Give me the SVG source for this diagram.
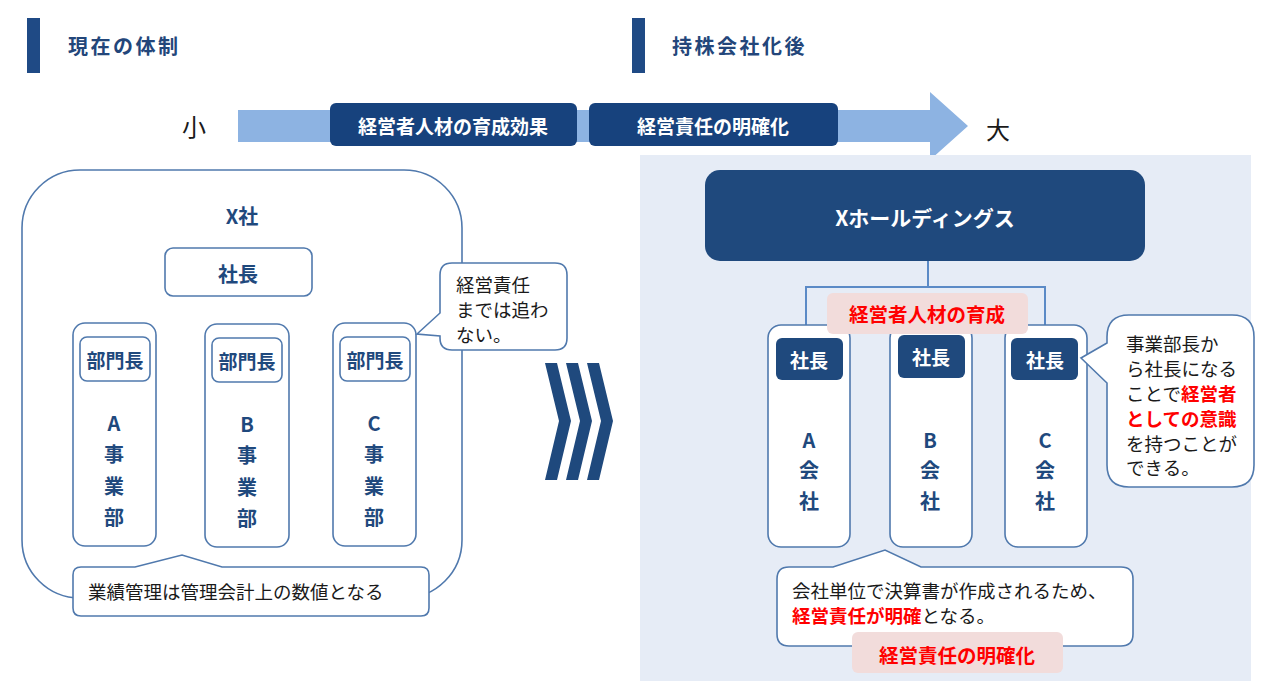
<svg xmlns="http://www.w3.org/2000/svg" width="1280" height="700" viewBox="0 0 1280 700">
<style>
text{font-family:"Noto Sans CJK JP","Noto Sans",sans-serif;dominant-baseline:central}
.hd{font-size:20px;font-weight:bold;fill:#23467a;letter-spacing:2.5px}
.wb{font-size:19px;font-weight:bold;fill:#ffffff;text-anchor:middle}
.nb{font-size:20px;font-weight:bold;fill:#1f497d;text-anchor:middle}
.ob{fill:#ffffff;stroke:#5079ad;stroke-width:1.6}
.db{fill:#1f497d}
.tx{font-size:18.5px;fill:#1a1a1a}
.rd{fill:#ff0000;font-weight:bold}
.pk{fill:#f2dcdb}
.pt{font-size:19.5px;font-weight:bold;fill:#ff0000;text-anchor:middle}
.cn{fill:none;stroke:#5b8ac6;stroke-width:2}
</style>

<!-- headers -->
<g id="header-left">
<rect x="27" y="18" width="13" height="55" fill="#1f4a85"/>
<text class="hd" x="68" y="45">現在の体制</text>
</g>
<g id="header-right">
<rect x="632" y="18" width="13" height="55" fill="#1f4a85"/>
<text class="hd" x="672" y="45">持株会社化後</text>
</g>

<!-- scale arrow -->
<g id="scale-arrow">
<text x="194" y="125" style="font-size:24px;fill:#1a1a1a;text-anchor:middle">小</text>
<polygon points="238,110 930,110 930,92 968,126 930,160 930,142 238,142" fill="#8db3e2"/>
<text x="998" y="128" style="font-size:24px;fill:#1a1a1a;text-anchor:middle">大</text>
</g>
<g id="label-effect">
<rect x="330" y="103" width="247" height="43" rx="6" fill="#17427d"/>
<text class="wb" x="453" y="125">経営者人材の育成効果</text>
</g>
<g id="label-clarify">
<rect x="589" y="103" width="249" height="43" rx="6" fill="#17427d"/>
<text class="wb" x="713" y="125">経営責任の明確化</text>
</g>

<!-- left: current structure -->
<g id="x-company">
<rect x="22" y="170" width="440" height="428" rx="58" class="ob"/>
<text class="nb" x="242" y="215">X社</text>
</g>
<g id="president-left">
<rect x="165" y="248" width="147" height="48" rx="8" class="ob"/>
<text class="nb" x="238" y="273">社長</text>
</g>
<g id="div-a">
<rect x="73" y="323" width="83" height="223" rx="12" class="ob"/>
<rect x="80" y="337" width="70" height="44" rx="7" class="ob"/>
<text class="nb" x="115" y="359" style="font-size:19px">部門長</text>
<text class="nb" x="114" y="422">A</text>
<text class="nb" x="114" y="453">事</text>
<text class="nb" x="114" y="485">業</text>
<text class="nb" x="114" y="516">部</text>
</g>
<g id="div-b">
<rect x="205" y="324" width="84" height="223" rx="12" class="ob"/>
<rect x="212" y="338" width="70" height="44" rx="7" class="ob"/>
<text class="nb" x="247" y="360" style="font-size:19px">部門長</text>
<text class="nb" x="247" y="423">B</text>
<text class="nb" x="247" y="454">事</text>
<text class="nb" x="247" y="486">業</text>
<text class="nb" x="247" y="517">部</text>
</g>
<g id="div-c">
<rect x="333" y="323" width="83" height="223" rx="12" class="ob"/>
<rect x="340" y="337" width="70" height="44" rx="7" class="ob"/>
<text class="nb" x="375" y="359" style="font-size:19px">部門長</text>
<text class="nb" x="374" y="422">C</text>
<text class="nb" x="374" y="453">事</text>
<text class="nb" x="374" y="485">業</text>
<text class="nb" x="374" y="516">部</text>
</g>
<g id="callout-noresp">
<path d="M452,263 H555 Q567,263 567,275 V338 Q567,350 555,350 H452 Q440,350 440,338 V336 L417,334 L440,313 V275 Q440,263 452,263 Z" class="ob"/>
<text class="tx" x="456" y="284">経営責任</text>
<text class="tx" x="456" y="309">までは追わ</text>
<text class="tx" x="456" y="334">ない。</text>
</g>
<g id="callout-mgmt">
<path d="M81,567 H135 L182,555 L222,567 H421 Q429,567 429,575 V608 Q429,616 421,616 H81 Q73,616 73,608 V575 Q73,567 81,567 Z" class="ob"/>
<text class="tx" x="88" y="591">業績管理は管理会計上の数値となる</text>
</g>

<!-- chevrons -->
<g id="chevrons" fill="#1f497d">
<polygon points="545,363 557,363 571,421 557,480 545,480 559,421"/>
<polygon points="566,363 578,363 592,421 578,480 566,480 580,421"/>
<polygon points="587,363 599,363 613,421 599,480 587,480 601,421"/>
</g>

<!-- right: holdings structure -->
<rect x="640" y="155" width="611" height="526" fill="#e6ecf6"/>
<g id="connectors">
<path class="cn" d="M928,261 V287 M806,325 V287 H1045 V325"/>
</g>
<g id="holdings">
<rect x="705" y="170" width="440" height="91" rx="15" fill="#1f497d"/>
<text class="wb" x="925" y="217" style="font-size:21px">Xホールディングス</text>
</g>
<g id="company-a">
<rect x="768" y="325" width="82" height="222" rx="13" class="ob"/>
<rect x="776" y="338" width="67" height="42" rx="6" class="db"/>
<text class="wb" x="809" y="359">社長</text>
<text class="nb" x="809" y="439">A</text>
<text class="nb" x="809" y="469">会</text>
<text class="nb" x="809" y="500">社</text>
</g>
<g id="company-b">
<rect x="890" y="325" width="82" height="222" rx="13" class="ob"/>
<rect x="898" y="335" width="67" height="43" rx="6" class="db"/>
<text class="wb" x="931" y="356">社長</text>
<text class="nb" x="930" y="439">B</text>
<text class="nb" x="930" y="469">会</text>
<text class="nb" x="930" y="500">社</text>
</g>
<g id="company-c">
<rect x="1005" y="325" width="82" height="222" rx="13" class="ob"/>
<rect x="1011" y="338" width="67" height="42" rx="6" class="db"/>
<text class="wb" x="1045" y="359">社長</text>
<text class="nb" x="1045" y="439">C</text>
<text class="nb" x="1045" y="469">会</text>
<text class="nb" x="1045" y="500">社</text>
</g>
<g id="label-talent">
<rect x="827" y="293" width="201" height="41" rx="6" class="pk"/>
<text class="pt" x="927" y="313">経営者人材の育成</text>
</g>
<g id="callout-awareness">
<path d="M1129,315 H1232 Q1254,315 1254,337 V465 Q1254,487 1232,487 H1129 Q1107,487 1107,465 V383 L1081,358 L1107,343 V337 Q1107,315 1129,315 Z" class="ob"/>
<text class="tx" x="1126" y="343">事業部長か</text>
<text class="tx" x="1126" y="368">ら社長になる</text>
<text class="tx" x="1126" y="393">ことで<tspan class="rd">経営者</tspan></text>
<text class="tx rd" x="1126" y="418">としての意識</text>
<text class="tx" x="1126" y="443">を持つことが</text>
<text class="tx" x="1126" y="467">できる。</text>
</g>
<g id="callout-settlement">
<path d="M789,567 H833 L885,550 L921,567 H1121 Q1133,567 1133,579 V634 Q1133,646 1121,646 H789 Q777,646 777,634 V579 Q777,567 789,567 Z" class="ob"/>
<text class="tx" x="792" y="590">会社単位で決算書が作成されるため、</text>
<text class="tx" x="792" y="615"><tspan class="rd">経営責任が明確</tspan>となる。</text>
</g>
<g id="label-responsibility">
<rect x="852" y="632" width="211" height="41" rx="6" class="pk"/>
<text class="pt" x="957" y="654">経営責任の明確化</text>
</g>
</svg>
